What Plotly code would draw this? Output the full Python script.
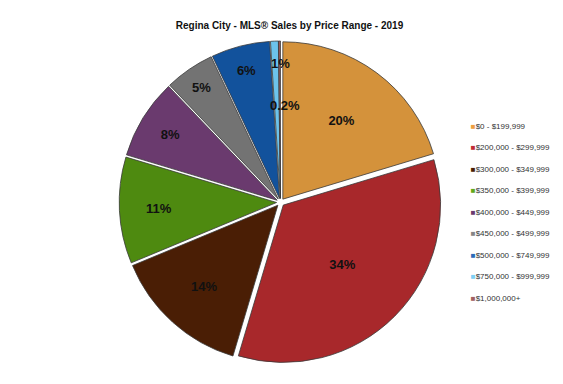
import math
import plotly.graph_objects as go

categories = ["$0 - $199,999", "$200,000 - $299,999", "$300,000 - $349,999",
              "$350,000 - $399,999", "$400,000 - $449,999", "$450,000 - $499,999",
              "$500,000 - $749,999", "$750,000 - $999,999", "$1,000,000+"]
shares = [20.3, 34.2, 14.1, 10.9, 8.2, 5.1, 6.0, 0.8, 0.2]
colors = ["#D4923B", "#A8282B", "#4A1E05", "#4E8A10", "#6A3A6E", "#737373",
          "#12529C", "#6CC3EC", "#9C5B5B"]
legend_colors = ["#EE9E3E", "#C02B33", "#4A1E05", "#62A81A", "#6A3A6E", "#858585",
                 "#2A6CB8", "#7FD0F5", "#A06060"]

W, H = 563, 384
FONT = "Liberation Sans, Arial, sans-serif"
dom_x = [0.197, 0.771]
dom_y = [0.074, 0.914]

total = sum(shares)
labels_txt = []
for v in shares:
    p = v / total * 100
    labels_txt.append(f"{p:.1f}%" if p < 0.5 else f"{p:.0f}%")

# slices too thin for inside text get their labels as annotations
small = [i for i, v in enumerate(shares) if v / total < 0.02]
inside_txt = ["" if i in small else f"<b>{t}</b>" for i, t in enumerate(labels_txt)]

fig = go.Figure(go.Pie(
    labels=categories,
    values=shares,
    text=inside_txt,
    textinfo="text",
    textposition="inside",
    insidetextorientation="horizontal",
    sort=False,
    direction="clockwise",
    rotation=0,
    pull=0.025,
    marker=dict(colors=colors, line=dict(color="#3a3a3a", width=0.8)),
    textfont=dict(family=FONT, size=13, color="#111111"),
    domain=dict(x=dom_x, y=dom_y),
    hoverinfo="label+percent",
    showlegend=False,
))

# legend entries with small square swatches
for i, (name, c) in enumerate(zip(categories, legend_colors)):
    fig.add_trace(go.Scatter(
        x=[None], y=[None], mode="markers",
        marker=dict(size=1, color="rgba(0,0,0,0)"),
        name=f"<span style='color:{c}'>■</span>{name}",
        legendgroup=f"g{i}", showlegend=True, hoverinfo="skip",
    ))

# annotation positions derived from slice angles
cx = (dom_x[0] + dom_x[1]) / 2 * W
cy = (1 - (dom_y[0] + dom_y[1]) / 2) * H
R = min((dom_x[1] - dom_x[0]) * W, (dom_y[1] - dom_y[0]) * H) / 2
radial = {7: 0.86, 8: 0.6}
cum = 0
for i, v in enumerate(shares):
    mid = (cum + v / 2) / total
    cum += v
    if i in small:
        ang = mid * 2 * math.pi
        r = radial.get(i, 0.8) * R
        px = cx + r * math.sin(ang) + 5
        py = cy - r * math.cos(ang)
        fig.add_annotation(x=px / W, y=1 - py / H, xref="paper", yref="paper",
                           xanchor="center", yanchor="middle",
                           text=f"<b>{labels_txt[i]}</b>", showarrow=False,
                           font=dict(family=FONT, size=13, color="#111111"))

fig.update_layout(
    width=W, height=H,
    margin=dict(l=0, r=0, t=0, b=0),
    paper_bgcolor="white",
    plot_bgcolor="white",
    xaxis=dict(visible=False),
    yaxis=dict(visible=False),
    title=dict(text="<b>Regina City - MLS® Sales by Price Range - 2019</b>",
               x=0.5, xanchor="center", y=0.955, yanchor="middle",
               font=dict(family=FONT, size=10, color="#111111")),
    legend=dict(x=0.751, y=0.731, xanchor="left", yanchor="top",
                font=dict(family=FONT, size=8, color="#333333"),
                itemwidth=30, tracegroupgap=2.5, bgcolor="rgba(0,0,0,0)"),
    showlegend=True,
)

fig.write_html("out.html")
